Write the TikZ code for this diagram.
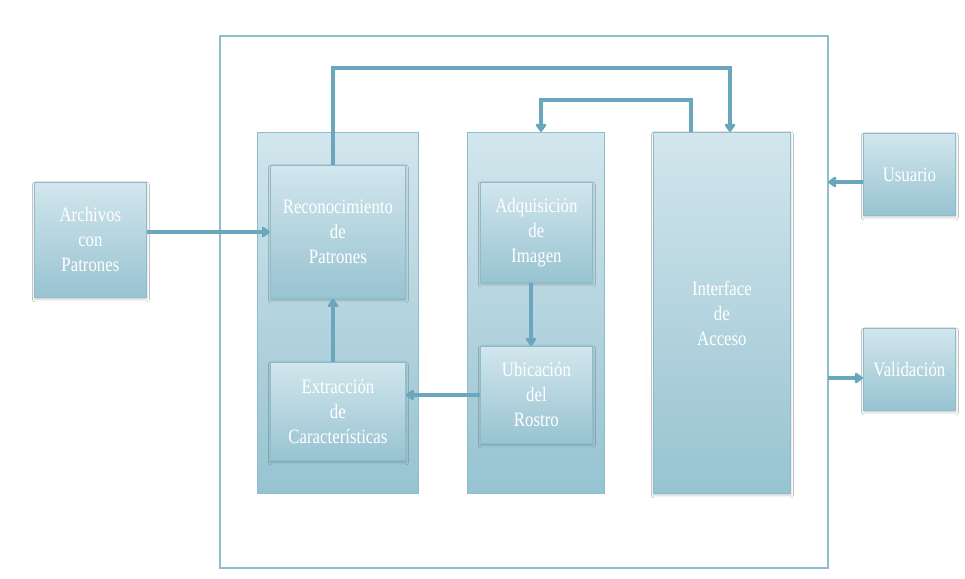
\documentclass[tikz,border=0pt]{standalone}
\usepackage{fontspec}
\setmainfont{Liberation Serif}[FakeStretch=0.82]
\usetikzlibrary{arrows.meta,shadows.blur}
\definecolor{boxtop}{HTML}{D2E6ED}
\definecolor{boxbot}{HTML}{97C3D1}
\definecolor{boxedge}{HTML}{8DBDCC}
\definecolor{linkc}{HTML}{6AA7BC}
\definecolor{framec}{HTML}{8CBFCF}
\tikzset{
  panel/.style={draw=boxedge, line width=0.8pt, top color=boxtop, bottom color=boxbot, anchor=north west, inner sep=0pt},
  block/.style={panel, blur shadow={shadow xshift=0.5pt, shadow yshift=-2pt, shadow blur radius=2.5pt, shadow opacity=20},
    text=white, align=center, font=\fontsize{20.5}{25}\selectfont},
  link/.style={draw=linkc, line width=3.6pt, -{Triangle[width=12pt,length=9pt,round]}}
}
\begin{document}
\begin{tikzpicture}[x=1pt,y=-1pt]
  \useasboundingbox (0,0) rectangle (965,578);
  \fill[white] (0,0) rectangle (965,578);
  % outer frame
  \draw[framec, line width=1.2pt] (220,36) rectangle (828,568);
  \coordinate (frameR1) at (828,182);
  \coordinate (frameR2) at (828,378);
  % column panels
  \node[panel, minimum width=161pt, minimum height=361pt] (col1) at (257,132) {};
  \node[panel, minimum width=137pt, minimum height=361pt] (col2) at (467,132) {};
  % blocks
  \node[block, minimum width=137pt, minimum height=361pt] (iface) at (653,132) {Interface\\de\\Acceso};
  \node[block, minimum width=112pt, minimum height=115pt] (arch) at (34,182) {Archivos\\con\\Patrones};
  \node[block, minimum width=135pt, minimum height=133pt] (recon) at (270,165) {Reconocimiento\\de\\Patrones};
  \node[block, minimum width=135pt, minimum height=98pt] (extr) at (270,362) {Extracción\\de\\Características};
  \node[block, minimum width=112pt, minimum height=100pt] (adq) at (480,182) {Adquisición\\de\\Imagen};
  \node[block, minimum width=112pt, minimum height=97pt] (ubic) at (480,346) {Ubicación\\del\\Rostro};
  \node[block, minimum width=92pt, minimum height=82pt] (user) at (863,133) {Usuario};
  \node[block, minimum width=92pt, minimum height=82pt] (valid) at (863,328) {Validación};
  % connectors
  \draw[link] (arch.east |- 0,232) -- (recon.west |- 0,232);
  \draw[link] (recon.north -| 333,0) -- (333,68) -- (730,68) -- (iface.north -| 730,0);
  \draw[link] (iface.north -| 691,0) -- (691,100) -- (541,100) -- (col2.north -| 541,0);
  \draw[link] (adq.south -| 531,0) -- (ubic.north -| 531,0);
  \draw[link] (ubic.west |- 0,395) -- (extr.east |- 0,395);
  \draw[link] (extr.north -| 333,0) -- (recon.south -| 333,0);
  \draw[link] (user.west |- frameR1) -- (frameR1);
  \draw[link] (frameR2) -- (valid.west |- frameR2);
\end{tikzpicture}
\end{document}
